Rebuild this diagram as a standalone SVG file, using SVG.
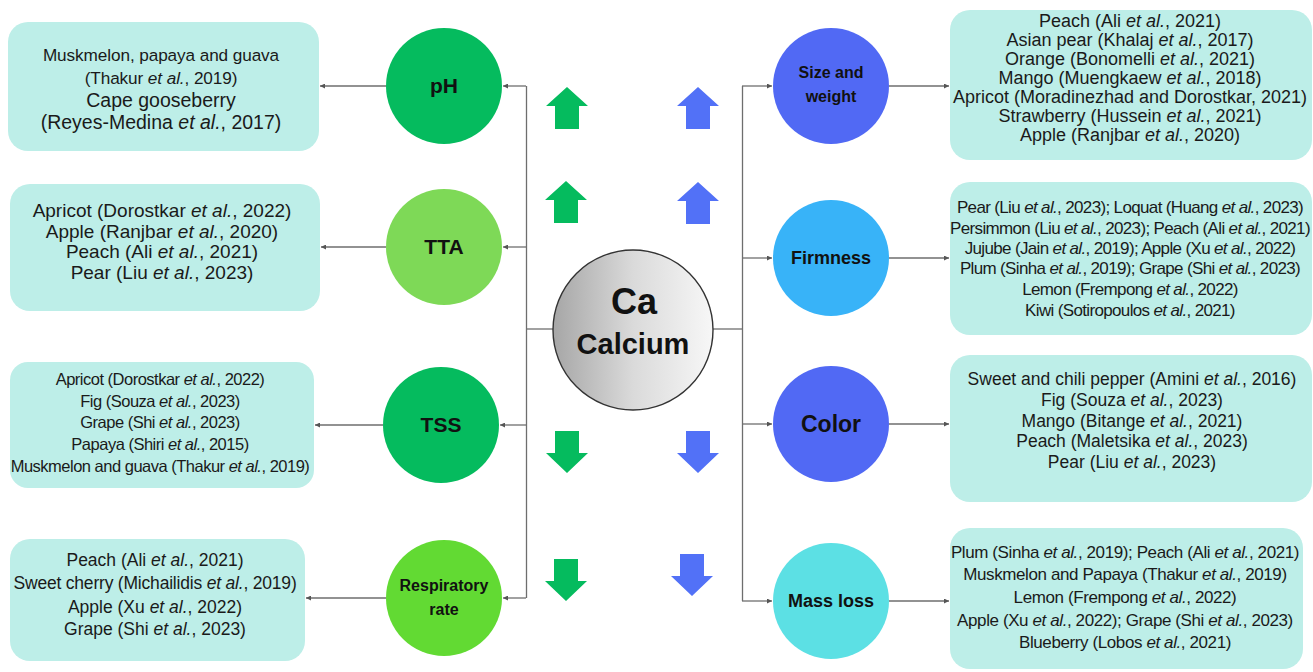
<svg xmlns="http://www.w3.org/2000/svg" width="1313" height="672" viewBox="0 0 1313 672">
<style>
.box{fill:#BDEEE8}
.bt{font-family:"Liberation Sans",Arial,sans-serif;fill:#1a1a1a;text-anchor:middle}
.lbl{font-family:"Liberation Sans",Arial,sans-serif;font-weight:bold;fill:#111;text-anchor:middle}
.i{font-style:italic}
.con{stroke:#6e6e6e;stroke-width:1.3;fill:none}
.arr{stroke:#6e6e6e;stroke-width:1.3;fill:none;marker-end:url(#ah)}
.gA{fill:#05BB5E}
.bA{fill:#5271F7}
</style>
<defs>
<marker id="ah" viewBox="0 0 6 6" refX="6" refY="3" markerWidth="5" markerHeight="5" orient="auto" markerUnits="userSpaceOnUse">
<path d="M0,0 L6,3 L0,6 Z" fill="#555"/>
</marker>
<path id="up" d="M0,0 L21,19 L12,19 L12,42 L-12,42 L-12,19 L-21,19 Z"/>
<path id="dn" d="M-12,0 L12,0 L12,22 L21,22 L0,42 L-21,22 L-12,22 Z"/>
<linearGradient id="caG" x1="0" y1="0" x2="1" y2="0">
<stop offset="0" stop-color="#a6a6a6"/>
<stop offset="0.5" stop-color="#dadada"/>
<stop offset="1" stop-color="#f7f7f7"/>
</linearGradient>
</defs>
<rect width="1313" height="672" fill="#ffffff"/>

<g id="connectors">
<path class="con" d="M526.5,86 V598"/>
<path class="con" d="M526,329 H553"/>
<path class="arr" d="M526,86 H503"/>
<path class="arr" d="M386,86 H320"/>
<path class="arr" d="M526,247 H503"/>
<path class="arr" d="M386,247 H321"/>
<path class="arr" d="M526,425 H500"/>
<path class="arr" d="M383,425 H315"/>
<path class="arr" d="M526,598 H503"/>
<path class="arr" d="M386,598 H306"/>
<path class="con" d="M742.5,86 V601"/>
<path class="con" d="M713,329 H743"/>
<path class="arr" d="M742,86 H772"/>
<path class="arr" d="M889,86 H949"/>
<path class="arr" d="M742,258 H772"/>
<path class="arr" d="M889,258 H949"/>
<path class="arr" d="M742,424 H772"/>
<path class="arr" d="M889,424 H949"/>
<path class="arr" d="M742,601 H772"/>
<path class="arr" d="M889,601 H949"/>
</g>

<g id="trend-arrows">
<use href="#up" class="gA" transform="translate(567,87)"/>
<use href="#up" class="gA" transform="translate(566,181)"/>
<use href="#up" class="bA" transform="translate(698,87)"/>
<use href="#up" class="bA" transform="translate(698,182)"/>
<use href="#dn" class="gA" transform="translate(567,431)"/>
<use href="#dn" class="bA" transform="translate(698,431)"/>
<use href="#dn" class="gA" transform="translate(566,559)"/>
<use href="#dn" class="bA" transform="translate(692,554)"/>
</g>

<g id="calcium">
<circle cx="633" cy="330" r="80" fill="url(#caG)" stroke="#333" stroke-width="1.4"/>
<text class="lbl" x="634" y="314" font-size="36" style="font-weight:900">Ca</text>
<text class="lbl" x="633" y="354" font-size="29">Calcium</text>
</g>

<g id="ph">
<circle cx="444" cy="86" r="58" fill="#05BB5E"/>
<text class="lbl" x="444" y="93" font-size="21">pH</text>
</g>
<g id="tta">
<circle cx="444" cy="247" r="58" fill="#7ED957"/>
<text class="lbl" x="444" y="254" font-size="21">TTA</text>
</g>
<g id="tss">
<circle cx="441" cy="425" r="58" fill="#05BB5E"/>
<text class="lbl" x="441" y="432" font-size="21">TSS</text>
</g>
<g id="respiratory">
<circle cx="444" cy="598" r="58" fill="#62DA33"/>
<text class="lbl" x="444" y="591" font-size="16">Respiratory</text>
<text class="lbl" x="444" y="615" font-size="16">rate</text>
</g>
<g id="size">
<circle cx="831" cy="86" r="58" fill="#5169F4"/>
<text class="lbl" x="831" y="78" font-size="16">Size and</text>
<text class="lbl" x="831" y="102" font-size="16">weight</text>
</g>
<g id="firmness">
<circle cx="831" cy="258" r="58" fill="#38B3F8"/>
<text class="lbl" x="831" y="264" font-size="18">Firmness</text>
</g>
<g id="color">
<circle cx="831" cy="424" r="58" fill="#5169F4"/>
<text class="lbl" x="831" y="432" font-size="23">Color</text>
</g>
<g id="massloss">
<circle cx="831" cy="601" r="58" fill="#5CE0E4"/>
<text class="lbl" x="831" y="607" font-size="18">Mass loss</text>
</g>

<g id="box-ph">
<rect class="box" x="8" y="22" width="311" height="129" rx="20"/>
<text class="bt" x="161" y="61" font-size="17.2" letter-spacing="-0.1">Muskmelon, papaya and guava</text>
<text class="bt" x="161" y="84" font-size="17.2" letter-spacing="-0.1">(Thakur <tspan class="i">et al.</tspan>, 2019)</text>
<text class="bt" x="161" y="107" font-size="19.5" fill="#2a2a2a">Cape gooseberry</text>
<text class="bt" x="161" y="129" font-size="19.5" fill="#2a2a2a">(Reyes-Medina <tspan class="i">et al.</tspan>, 2017)</text>
</g>
<g id="box-tta">
<rect class="box" x="10" y="184" width="310" height="127" rx="20"/>
<text class="bt" x="162" y="217" font-size="19">Apricot (Dorostkar <tspan class="i">et al.</tspan>, 2022)</text>
<text class="bt" x="162" y="238" font-size="19">Apple (Ranjbar <tspan class="i">et al.</tspan>, 2020)</text>
<text class="bt" x="162" y="258" font-size="19">Peach (Ali <tspan class="i">et al.</tspan>, 2021)</text>
<text class="bt" x="162" y="279" font-size="19">Pear (Liu <tspan class="i">et al.</tspan>, 2023)</text>
</g>
<g id="box-tss">
<rect class="box" x="10" y="362" width="304" height="126" rx="18"/>
<text class="bt" x="160" y="385" font-size="16.5" letter-spacing="-0.5">Apricot (Dorostkar <tspan class="i">et al.</tspan>, 2022)</text>
<text class="bt" x="160" y="407" font-size="16.5" letter-spacing="-0.5">Fig (Souza <tspan class="i">et al.</tspan>, 2023)</text>
<text class="bt" x="160" y="428" font-size="16.5" letter-spacing="-0.5">Grape (Shi <tspan class="i">et al.</tspan>, 2023)</text>
<text class="bt" x="160" y="450" font-size="16.5" letter-spacing="-0.5">Papaya (Shiri <tspan class="i">et al.</tspan>, 2015)</text>
<text class="bt" x="160" y="472" font-size="16.5" letter-spacing="-0.5">Muskmelon and guava (Thakur <tspan class="i">et al.</tspan>, 2019)</text>
</g>
<g id="box-resp">
<rect class="box" x="10" y="539" width="295" height="122" rx="20"/>
<text class="bt" x="155" y="566" font-size="17.5">Peach (Ali <tspan class="i">et al.</tspan>, 2021)</text>
<text class="bt" x="155" y="589" font-size="17.5" letter-spacing="-0.2">Sweet cherry (Michailidis <tspan class="i">et al.</tspan>, 2019)</text>
<text class="bt" x="155" y="613" font-size="17.5">Apple (Xu <tspan class="i">et al.</tspan>, 2022)</text>
<text class="bt" x="155" y="635" font-size="17.5">Grape (Shi <tspan class="i">et al.</tspan>, 2023)</text>
</g>

<g id="box-size">
<rect class="box" x="950" y="10" width="362" height="150" rx="20"/>
<text class="bt" x="1130" y="27" font-size="18">Peach (Ali <tspan class="i">et al.</tspan>, 2021)</text>
<text class="bt" x="1130" y="46" font-size="18">Asian pear (Khalaj <tspan class="i">et al.</tspan>, 2017)</text>
<text class="bt" x="1130" y="65" font-size="18">Orange (Bonomelli <tspan class="i">et al.</tspan>, 2021)</text>
<text class="bt" x="1130" y="84" font-size="18">Mango (Muengkaew <tspan class="i">et al.</tspan>, 2018)</text>
<text class="bt" x="1130" y="103" font-size="18" fill="#2a2a2a">Apricot (Moradinezhad and Dorostkar, 2021)</text>
<text class="bt" x="1130" y="122" font-size="18">Strawberry (Hussein <tspan class="i">et al.</tspan>, 2021)</text>
<text class="bt" x="1130" y="141" font-size="18">Apple (Ranjbar <tspan class="i">et al.</tspan>, 2020)</text>
</g>
<g id="box-firmness">
<rect class="box" x="950" y="182" width="362" height="153" rx="20"/>
<text class="bt" x="1130" y="213" font-size="17" letter-spacing="-0.65">Pear (Liu <tspan class="i">et al.</tspan>, 2023); Loquat (Huang <tspan class="i">et al.</tspan>, 2023)</text>
<text class="bt" x="1130" y="234" font-size="17" letter-spacing="-0.65">Persimmon (Liu <tspan class="i">et al.</tspan>, 2023); Peach (Ali <tspan class="i">et al.</tspan>, 2021)</text>
<text class="bt" x="1130" y="254" font-size="17" letter-spacing="-0.65">Jujube (Jain <tspan class="i">et al.</tspan>, 2019); Apple (Xu <tspan class="i">et al.</tspan>, 2022)</text>
<text class="bt" x="1130" y="274" font-size="17" letter-spacing="-0.65">Plum (Sinha <tspan class="i">et al.</tspan>, 2019); Grape (Shi <tspan class="i">et al.</tspan>, 2023)</text>
<text class="bt" x="1130" y="295" font-size="17" letter-spacing="-0.65">Lemon (Frempong <tspan class="i">et al.</tspan>, 2022)</text>
<text class="bt" x="1130" y="316" font-size="17" letter-spacing="-0.65">Kiwi (Sotiropoulos <tspan class="i">et al.</tspan>, 2021)</text>
</g>
<g id="box-color">
<rect class="box" x="950" y="355" width="362" height="147" rx="20"/>
<text class="bt" x="1132" y="385" font-size="17.5">Sweet and chili pepper (Amini <tspan class="i">et al.</tspan>, 2016)</text>
<text class="bt" x="1132" y="406" font-size="17.5">Fig (Souza <tspan class="i">et al.</tspan>, 2023)</text>
<text class="bt" x="1132" y="427" font-size="17.5">Mango (Bitange <tspan class="i">et al.</tspan>, 2021)</text>
<text class="bt" x="1132" y="447" font-size="17.5">Peach (Maletsika <tspan class="i">et al.</tspan>, 2023)</text>
<text class="bt" x="1132" y="468" font-size="17.5">Pear (Liu <tspan class="i">et al.</tspan>, 2023)</text>
</g>
<g id="box-massloss">
<rect class="box" x="950" y="528" width="353" height="141" rx="20"/>
<text class="bt" x="1125" y="558" font-size="17" letter-spacing="-0.4">Plum (Sinha <tspan class="i">et al.</tspan>, 2019); Peach (Ali <tspan class="i">et al.</tspan>, 2021)</text>
<text class="bt" x="1125" y="580" font-size="17" letter-spacing="-0.4">Muskmelon and Papaya (Thakur <tspan class="i">et al.</tspan>, 2019)</text>
<text class="bt" x="1125" y="603" font-size="17" letter-spacing="-0.4">Lemon (Frempong <tspan class="i">et al.</tspan>, 2022)</text>
<text class="bt" x="1125" y="626" font-size="17" letter-spacing="-0.4">Apple (Xu <tspan class="i">et al.</tspan>, 2022); Grape (Shi <tspan class="i">et al.</tspan>, 2023)</text>
<text class="bt" x="1125" y="648" font-size="17" letter-spacing="-0.4">Blueberry (Lobos <tspan class="i">et al.</tspan>, 2021)</text>
</g>
</svg>
